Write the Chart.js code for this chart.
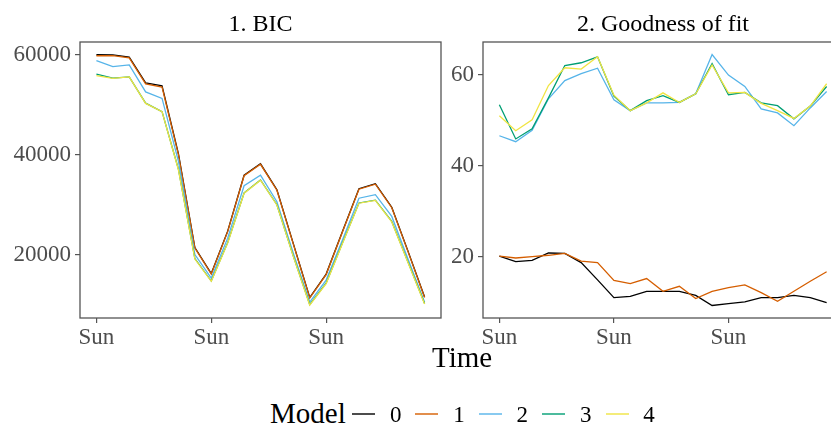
<!DOCTYPE html>
<html>
<head>
<meta charset="utf-8">
<script src="https://cdn.jsdelivr.net/npm/chart.js@4.4.1/dist/chart.umd.min.js"></script>
<style>
  html, body { margin: 0; padding: 0; background: #fff; overflow: hidden; }
  body { width: 831px; height: 425px; position: relative; font-family: "Liberation Serif", serif; }
  .abs { position: absolute; }
  #p1 { left: 0; top: 0; width: 445px; height: 350px; }
  #p2wrap { left: 440px; top: 0; width: 391px; height: 350px; overflow: hidden; }
  #p2 { left: 0; top: 0; width: 405px; height: 350px; }
  .txt { position: absolute; line-height: 1; white-space: nowrap; color: #000; }
  .key { position: absolute; height: 2px; opacity: 0.7; }
</style>
</head>
<body>

<div id="p1" class="abs"><canvas id="bicChart"></canvas></div>
<div id="p2wrap" class="abs"><div id="p2" class="abs"><canvas id="fitChart"></canvas></div></div>

<div class="txt" id="t1" style="font-size:24px; top:10.6px;">1. BIC</div>
<div class="txt" id="t2" style="font-size:24px; top:10.6px;">2. Goodness of fit</div>
<div class="txt" id="xt" style="font-size:29px; top:343px;">Time</div>
<div id="legend"></div>

<script>

/* DATA */

const days = [0, 1, 2, 3, 4, 5, 6, 7, 8, 9, 10, 11, 12, 13, 14, 15, 16, 17, 18, 19, 20];

const sunDays = [0, 7, 14];
const sunLabels = ["Sun", "Sun", "Sun"];

const models = ["0", "1", "2", "3", "4"];
const colors = ["#000000", "#D55E00", "#56B4E9", "#009E73", "#F0E442"];

const bicTicks = [20000, 40000, 60000];
const fitTicks = [20, 40, 60];

const bic0 = [60050, 60000, 59550, 54400, 53800, 40200, 21400, 16200, 24700, 35900, 38200, 33000, 22200, 11400, 16100, 24700, 33200, 34200, 29500, 20600, 11500];
const bic1 = [59850, 59850, 59400, 54200, 53550, 40000, 21300, 16100, 24600, 35800, 38100, 32900, 22100, 11300, 16000, 24600, 33100, 34100, 29400, 20500, 11400];
const bic2 = [58850, 57650, 58000, 52600, 51300, 38700, 20000, 15300, 23300, 33800, 35900, 30600, 20300, 10500, 14900, 23000, 31300, 32000, 27650, 19000, 10450];
const bic3 = [56150, 55350, 55600, 50350, 48650, 37100, 19200, 14700, 22400, 32350, 34950, 30000, 19700, 10000, 14300, 22400, 30350, 30900, 26650, 18400, 10200];
const bic4 = [55850, 55300, 55600, 50300, 48650, 37000, 19100, 14650, 22300, 32300, 34900, 29950, 19650, 9900, 14200, 22300, 30300, 30850, 26550, 18300, 10100];

const fit0 = [20.2, 19.0, 19.3, 20.9, 20.8, 18.8, 15.0, 11.1, 11.4, 12.5, 12.5, 12.5, 11.6, 9.4, 9.8, 10.2, 11.1, 11.1, 11.6, 11.1, 10.0];
const fit1 = [20.2, 19.8, 20.1, 20.4, 20.8, 19.1, 18.8, 14.9, 14.2, 15.3, 12.5, 13.6, 10.9, 12.5, 13.3, 13.9, 12.2, 10.3, 12.5, 14.7, 16.8];
const fit2 = [46.6, 45.3, 47.8, 54.7, 58.7, 60.2, 61.4, 54.5, 52.1, 53.8, 53.8, 53.9, 55.8, 64.4, 59.9, 57.4, 52.5, 51.6, 48.8, 52.7, 56.3];
const fit3 = [53.4, 45.9, 48.1, 54.9, 62.0, 62.6, 63.9, 55.3, 52.1, 54.3, 55.4, 53.9, 55.8, 62.4, 55.6, 56.1, 53.8, 53.2, 50.3, 53.1, 57.4];
const fit4 = [51.0, 47.7, 50.1, 57.6, 61.5, 61.2, 63.9, 55.5, 52.1, 53.8, 56.0, 53.9, 55.8, 62.1, 56.0, 56.1, 53.7, 52.1, 50.4, 53.1, 58.0];

const bicSeries = [bic0, bic1, bic2, bic3, bic4];
const fitSeries = [fit0, fit1, fit2, fit3, fit4];

/* HELPERS */

const FONT = "'Liberation Serif', 'Times New Roman', serif";
const AXIS_GREY = "#4d4d4d";
const LINE_GREY = "#555555";

// later models are drawn on top (model 4 topmost)
function makeDatasets(series) {
    return series.map((vals, k) => ({
        label: models[k],
        data: vals.map((v, i) => ({ x: days[i], y: v })),
        borderColor: colors[k],
        backgroundColor: colors[k],
        borderWidth: 1.3,
        pointRadius: 0,
        tension: 0,
        fill: false,
        order: series.length - k
    }));
}

const panelBorder = {
    id: "panelBorder",
    afterDraw(chart) {
        const { ctx, chartArea: a } = chart;
        ctx.save();
        ctx.strokeStyle = LINE_GREY;
        ctx.lineWidth = 1.3;
        ctx.strokeRect(a.left, a.top, a.right - a.left, a.bottom - a.top);
        ctx.restore();
    }
};

function makeChart(id, series, yMin, yMax, yTicks, yWidth, pad) {
    return new Chart(document.getElementById(id), {
        type: "line",
        data: { datasets: makeDatasets(series) },
        options: {
            responsive: true,
            maintainAspectRatio: false,
            animation: false,
            layout: { padding: pad },
            plugins: {
                legend: { display: false },
                tooltip: { enabled: false }
            },
            scales: {
                x: {
                    type: "linear",
                    min: -1,
                    max: 21,
                    afterBuildTicks: s => { s.ticks = sunDays.map(v => ({ value: v })); },
                    afterFit: s => { s.height = 32; },
                    ticks: {
                        callback: (v, i) => sunLabels[i],
                        autoSkip: false,
                        maxRotation: 0,
                        color: AXIS_GREY,
                        padding: 1,
                        font: { family: FONT, size: 23 }
                    },
                    grid: { drawOnChartArea: false, tickLength: 5, color: LINE_GREY, lineWidth: 1.2 },
                    border: { display: false }
                },
                y: {
                    min: yMin,
                    max: yMax,
                    afterBuildTicks: s => { s.ticks = yTicks.map(v => ({ value: v })); },
                    afterFit: s => { s.width = yWidth; },
                    ticks: {
                        callback: v => String(v),
                        color: AXIS_GREY,
                        padding: 4,
                        font: { family: FONT, size: 23 }
                    },
                    grid: { drawOnChartArea: false, tickLength: 5, color: LINE_GREY, lineWidth: 1.2 },
                    border: { display: false }
                }
            }
        },
        plugins: [panelBorder]
    });
}

makeChart("bicChart", bicSeries, 7300, 62600, bicTicks, 80, { top: 42, right: 4, left: 0, bottom: 0 });
makeChart("fitChart", fitSeries, 6.65, 67.15, fitTicks, 43, { top: 42, right: 2, left: 0, bottom: 0 });

/* TITLES AND LEGEND */

function centerAt(el, cx) {
    el.style.left = (cx - el.offsetWidth / 2) + "px";
}

centerAt(document.getElementById("t1"), 260.5);
centerAt(document.getElementById("t2"), 663);
centerAt(document.getElementById("xt"), 462);

const legend = document.getElementById("legend");
const title = document.createElement("div");
title.className = "txt";
title.style.fontSize = "29px";
title.style.left = "270px";
title.style.top = "399px";
title.textContent = "Model";
legend.appendChild(title);

models.forEach((m, k) => {
    const key = document.createElement("div");
    key.className = "key";
    key.style.left = (351.5 + 63.5 * k) + "px";
    key.style.top = "413px";
    key.style.width = "23px";
    key.style.background = colors[k];
    legend.appendChild(key);

    const lab = document.createElement("div");
    lab.className = "txt";
    lab.style.fontSize = "23px";
    lab.style.left = (390 + 63.3 * k) + "px";
    lab.style.top = "403.4px";
    lab.textContent = m;
    legend.appendChild(lab);
});

</script>
</body>
</html>
